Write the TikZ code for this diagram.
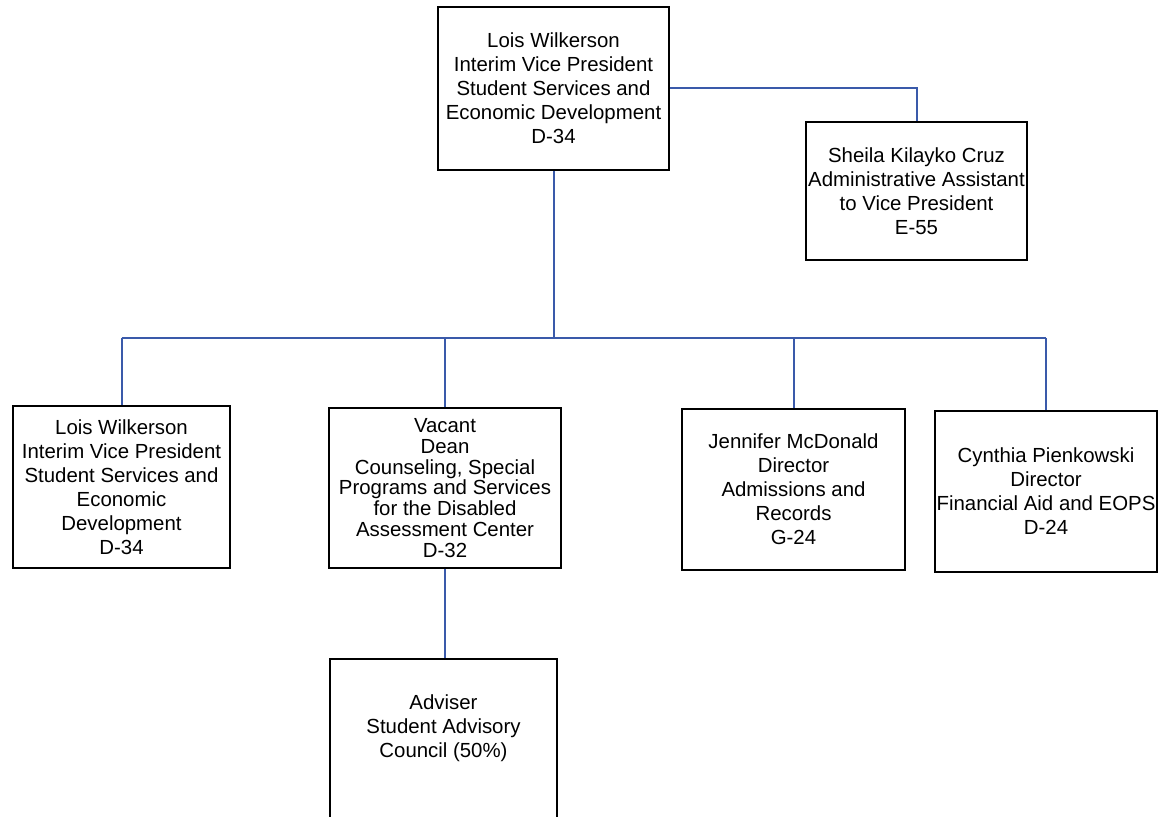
\documentclass[tikz,border=0pt]{standalone}
\usepackage{fontspec}
\setmainfont{Liberation Sans}
\usepackage{xcolor}
\usepackage{tikz}
\usetikzlibrary{positioning,calc}

\definecolor{linkblue}{RGB}{58,90,170}

\begin{document}
\begin{tikzpicture}[
    x=0.5pt, y=-0.5pt,
    unit/.style={draw, line width=1.2pt, align=center, inner sep=0pt,
                 font=\fontsize{10.2}{12}\selectfont},
    link/.style={draw=linkblue, line width=1pt}
]
    \useasboundingbox (0,0) rectangle (1161,817);

    % top level
    \node[unit, minimum width=115.5pt, minimum height=81.5pt] (vp) at (553.5,88.5)
        {Lois Wilkerson\\Interim Vice President\\Student Services and\\Economic Development\\D-34};
    \node[unit, minimum width=110.5pt, minimum height=69pt] (assistant) at (916.5,191)
        {Sheila Kilayko Cruz\\Administrative Assistant\\to Vice President\\E-55};

    % second level
    \node[unit, minimum width=108.5pt, minimum height=81pt] (lois) at (121.5,487)
        {Lois Wilkerson\\Interim Vice President\\Student Services and\\Economic\\Development\\D-34};
    \node[unit, minimum width=116pt, minimum height=80pt,
          font=\fontsize{10.2}{10.35}\selectfont] (dean) at (445,488)
        {Vacant\\Dean\\Counseling, Special\\Programs and Services\\for the Disabled\\Assessment Center\\D-32};
    \node[unit, minimum width=111.5pt, minimum height=80.5pt] (records) at (793.5,489.5)
        {Jennifer McDonald\\Director\\Admissions and\\Records\\G-24};
    \node[unit, minimum width=111pt, minimum height=80.5pt] (finaid) at (1046,491.5)
        {Cynthia Pienkowski\\Director\\Financial Aid and EOPS\\D-24};

    % under the dean
    \node[unit, minimum width=113.5pt, minimum height=90pt, text depth=23.5pt,
          anchor=north] (adviser) at (443.5,658)
        {Adviser\\Student Advisory\\Council (50\%)};

    \coordinate (bus) at (553,338);

    \draw[link] (vp.east) -| (assistant.north);
    \draw[link] (vp.south) -- (vp.south |- bus);
    \draw[link] (lois.north |- bus) -- (finaid.north |- bus);
    \foreach \n in {lois,dean,records,finaid}
        \draw[link] (\n.north |- bus) -- (\n.north);
    \draw[link] (dean.south) -- (dean.south |- adviser.north);
\end{tikzpicture}
\end{document}
